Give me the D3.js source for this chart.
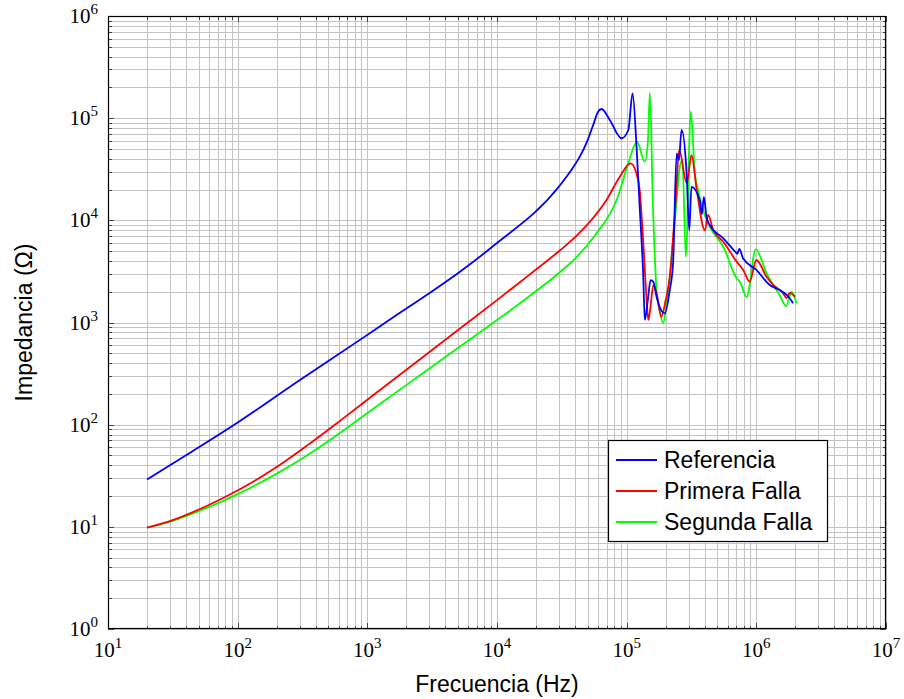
<!DOCTYPE html>
<html><head><meta charset="utf-8">
<script src="https://cdn.jsdelivr.net/npm/d3@7"></script>
<style>body{margin:0;background:#fff}svg{display:block}</style>
</head><body><svg id="c" width="904" height="699"></svg>
<script>
// ---------- data ----------
const freqRef=[20,31.8,100,302,877,1585,2865,5180,9350,30500,36500,43500,49300,55200,60000,64000,74100,91300,103000,111000,119000,126000,134000,138000,145600,153000,161000,170000,197000,215000,228000,243000,253000,265000,290000,304000,316000,366000,380000,394000,412000,437000,556000,690000,712000,740000,790000,1000000,1270000,1510000,1810000,1920000];
const zRef=[29,41.9,105,274,676,1124,1858,3140,5600,21900,29700,42000,58400,85700,115000,123000,96000,63600,76600,175000,54600,13600,3020,1060,1660,2600,2490,1790,1230,2080,3800,45300,38900,76600,28800,8000,21300,15800,11500,17000,10900,9000,6670,4900,4700,5250,4250,3270,2330,2080,1730,1540];

const freqF1=[20,31.9,57.7,104,188,340,615,877,1490,5180,10000,17950,30500,41000,69900,88500,107000,119000,126000,134000,142000,147000,151000,161000,171000,185000,200000,215000,239000,254000,291000,316000,347000,401000,425000,465000,556000,705000,792000,889000,1000000,1200000,1350000,1610000,1710000,1810000,1980000];
const zF1=[9.8,11.7,16.0,23.3,36.6,62,109,154,259,872,1656,2960,5070,7030,15800,26700,36100,28800,19800,6400,1790,1060,1270,2330,1860,1140,1660,2800,15800,48600,23000,43500,19800,8000,11300,8040,6170,3940,3270,2510,4090,2800,2330,1930,1730,1950,1790];

const freqF2=[20,31.9,57.7,104,188,340,615,877,1490,5180,10000,17950,30500,42000,56900,83600,103000,120000,138000,146000,151000,159000,170000,180000,191000,203000,215000,228000,243000,257000,269000,286000,312000,336000,355000,388000,437000,556000,705000,746000,843000,989000,1200000,1350000,1510000,1700000,1870000,2040000];
const zF2=[9.8,11.5,15.3,21.4,31.7,49.7,82.8,115,187,581,1057,1830,3105,4500,7120,15800,36100,58800,37500,61000,178000,15800,2080,1300,982,1540,2800,6400,15800,33500,38900,4400,116000,28800,19800,12600,8670,5520,2710,2510,1770,5200,3030,2330,1860,1450,2000,1540];

const xTickExp=[1,2,3,4,5,6,7];
const yTickExp=[0,1,2,3,4,5,6];
const seriesNames=["Referencia","Primera Falla","Segunda Falla"];
const xTitle="Frecuencia (Hz)";
const yTitle="Impedancia (\u03A9)";

// ---------- layout ----------
const L=108,R=886,T=16,B=629;
const colors=["#0000ff","#ff0000","#00ff00"];
const svg=d3.select("#c");
const x=d3.scaleLog().domain([1e1,1e7]).range([L,R]);
const y=d3.scaleLog().domain([1e0,1e6]).range([B,T]);

const majX=xTickExp.map(e=>Math.pow(10,e));
const majY=yTickExp.map(e=>Math.pow(10,e));
const minX=[],minY=[];
xTickExp.slice(0,-1).forEach(e=>{for(let k=2;k<=9;k++)minX.push(k*Math.pow(10,e));});
yTickExp.slice(0,-1).forEach(e=>{for(let k=2;k<=9;k++)minY.push(k*Math.pow(10,e));});

const grid=svg.append("g").attr("stroke","#c4c4c4").attr("stroke-width",1).attr("shape-rendering","crispEdges");
minX.concat(majX).forEach(v=>grid.append("line").attr("x1",Math.round(x(v))+0.5).attr("x2",Math.round(x(v))+0.5).attr("y1",T).attr("y2",B));
minY.concat(majY).forEach(v=>grid.append("line").attr("y1",Math.round(y(v))+0.5).attr("y2",Math.round(y(v))+0.5).attr("x1",L).attr("x2",R));

// ticks (inside, all four sides)
const tk=svg.append("g").attr("stroke","#444").attr("stroke-width",1).attr("shape-rendering","crispEdges");
function xt(v,len){const px=Math.round(x(v))+0.5;
  tk.append("line").attr("x1",px).attr("x2",px).attr("y1",B).attr("y2",B-len);
  tk.append("line").attr("x1",px).attr("x2",px).attr("y1",T).attr("y2",T+len);}
function yt(v,len){const py=Math.round(y(v))+0.5;
  tk.append("line").attr("y1",py).attr("y2",py).attr("x1",L).attr("x2",L+len);
  tk.append("line").attr("y1",py).attr("y2",py).attr("x1",R).attr("x2",R-len);}
majX.forEach(v=>xt(v,6)); minX.forEach(v=>xt(v,3.5));
majY.forEach(v=>yt(v,6)); minY.forEach(v=>yt(v,3.5));

// clip
svg.append("defs").append("clipPath").attr("id","clip").append("rect").attr("x",L).attr("y",T).attr("width",R-L).attr("height",B-T);

const line=d3.line().x(d=>x(d[0])).y(d=>y(d[1])).curve(d3.curveMonotoneX);
const series=[[freqRef,zRef],[freqF1,zF1],[freqF2,zF2]];
const lg=svg.append("g").attr("clip-path","url(#clip)");
[2,1,0].forEach(i=>{
  const [f,z]=series[i];
  lg.append("path").datum(f.map((v,j)=>[v,z[j]])).attr("d",line)
    .attr("fill","none").attr("stroke",colors[i]).attr("stroke-width",1.8).attr("stroke-linejoin","round");
});

// frame
svg.append("rect").attr("x",L+0.5).attr("y",T+0.5).attr("width",R-L-1).attr("height",B-T-1)
  .attr("fill","none").attr("stroke","#000").attr("stroke-width",1.2);

// tick labels
const serif="'Liberation Serif','DejaVu Serif',serif";
xTickExp.forEach(e=>{
  const t=svg.append("text").attr("x",x(Math.pow(10,e))).attr("y",B+28).attr("text-anchor","middle")
    .attr("font-family",serif).attr("font-size",21).attr("fill","#000");
  t.append("tspan").text("10");
  t.append("tspan").attr("dy",-9).attr("font-size",15).text(e);
});
yTickExp.forEach(e=>{
  const t=svg.append("text").attr("x",98).attr("y",y(Math.pow(10,e))+7).attr("text-anchor","end")
    .attr("font-family",serif).attr("font-size",21).attr("fill","#000");
  t.append("tspan").text("10");
  t.append("tspan").attr("dy",-9).attr("font-size",15).text(e);
});

// axis titles
const sans="'Liberation Sans',Arial,Helvetica,sans-serif";
svg.append("text").attr("x",(L+R)/2).attr("y",692).attr("text-anchor","middle")
  .attr("font-family",sans).attr("font-size",23).text(xTitle);
svg.append("text").attr("transform",`translate(32,${(T+B)/2}) rotate(-90)`).attr("text-anchor","middle")
  .attr("font-family",sans).attr("font-size",23).text(yTitle);

// legend
const lgX=608,lgY=440,lgW=219,lgH=101;
const leg=svg.append("g");
leg.append("rect").attr("x",lgX+0.5).attr("y",lgY+0.5).attr("width",lgW).attr("height",lgH)
  .attr("fill","#fff").attr("stroke","#000").attr("stroke-width",1.2);
seriesNames.forEach((n,i)=>{
  const cy=lgY+20+i*31;
  leg.append("line").attr("x1",lgX+8).attr("x2",lgX+49).attr("y1",cy).attr("y2",cy)
    .attr("stroke",colors[i]).attr("stroke-width",1.8);
  leg.append("text").attr("x",lgX+56).attr("y",cy+8).attr("font-family",sans).attr("font-size",23).text(n);
});
</script>
</body></html>
